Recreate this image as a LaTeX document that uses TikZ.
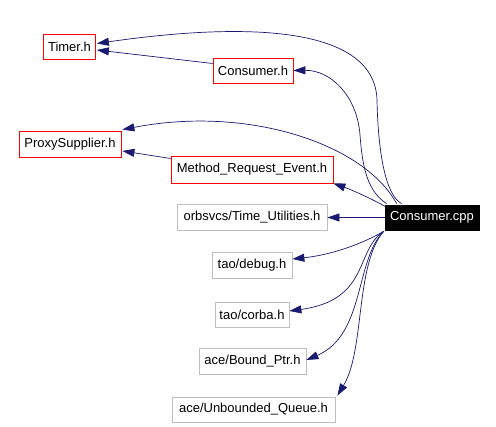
\documentclass[tikz,border=0pt]{standalone}
\usepackage{fontspec}
\setmainfont{Liberation Sans}
\usetikzlibrary{arrows.meta,calc}
\definecolor{edgec}{HTML}{191970}
\definecolor{grayb}{HTML}{BFBFBF}
\definecolor{redb}{HTML}{FF0000}
\tikzset{
  box/.style={draw,line width=0.8pt,inner sep=0pt,font=\fontsize{13}{15}\selectfont,fill=white},
  redbox/.style={box,draw=redb},
  graybox/.style={box,draw=grayb},
  mainbox/.style={box,draw=black,fill=black,text=white},
  dep/.style={draw=edgec,line width=0.7pt,-{Triangle[length=12pt,width=8pt,fill=edgec]}}
}
\begin{document}
\begin{tikzpicture}[x=1pt,y=-1pt]
\useasboundingbox (0,0) rectangle (496,427);
\node[redbox,minimum width=52pt,minimum height=25pt] (timer) at (69.5,46.5) {Timer.h};
\node[redbox,minimum width=80pt,minimum height=25pt] (consh) at (253,70.5) {Consumer.h};
\node[redbox,minimum width=102pt,minimum height=26pt] (proxy) at (70,144) {ProxySupplier.h};
\node[redbox,minimum width=162pt,minimum height=27pt] (mre) at (252,169.5) {Method\_Request\_Event.h};
\node[mainbox,minimum width=94pt,minimum height=25pt] (cpp) at (432,217.5) {Consumer.cpp};
\node[graybox,minimum width=150pt,minimum height=26pt] (tu) at (252,217.5) {orbsvcs/Time\_Utilities.h};
\node[graybox,minimum width=80pt,minimum height=26pt] (debug) at (252,265) {tao/debug.h};
\node[graybox,minimum width=74pt,minimum height=25pt] (corba) at (252,314.5) {tao/corba.h};
\node[graybox,minimum width=107pt,minimum height=26pt] (bptr) at (252.5,361) {ace/Bound\_Ptr.h};
\node[graybox,minimum width=163pt,minimum height=25pt] (uq) at (253.5,409.5) {ace/Unbounded\_Queue.h};

\coordinate (cppnw) at (cpp.north west);
\coordinate (cppsw) at (cpp.south west);

% Consumer.cpp -> Timer.h
\draw[dep] ($(cppnw)+(17,-1)$) .. controls (385,195) and (378,150) .. (377,100)
  .. controls (375,30) and (260,20) .. ($(timer.east)+(1,-3)$);
% Consumer.h -> Timer.h
\draw[dep] ($(consh.west)+(0,-7)$) -- ($(timer.east)+(1,3.5)$);
% Consumer.cpp -> Consumer.h
\draw[dep] ($(cppnw)+(2,-1)$) .. controls (365,190) and (362,160) .. (360,135)
  .. controls (357,95) and (330,70) .. (consh.east);
% Consumer.cpp -> ProxySupplier.h
\draw[dep] ($(cppnw)+(12,-1)$) .. controls (365,145) and (250,105) .. ($(proxy.north east)+(1,-1)$);
% Method_Request_Event.h -> ProxySupplier.h
\draw[dep] ($(mre.west)+(0,-11)$) -- ($(proxy.east)+(1,7)$);
% Consumer.cpp -> Method_Request_Event.h
\draw[dep] ($(cppnw)+(1,2)$) .. controls (370,198) and (352,190) .. ($(mre.south east)+(0,0)$);
% Consumer.cpp -> Time_Utilities.h
\draw[dep] (cpp.west) -- (tu.east);
% Consumer.cpp -> debug
\draw[dep] ($(cppsw)+(-1,1)$) .. controls (360,245) and (330,255) .. ($(debug.east)+(0,-6)$);
% Consumer.cpp -> corba
\draw[dep] ($(cppsw)+(-1,1)$) .. controls (355,250) and (370,300) .. ($(corba.east)+(0,-3.5)$);
% Consumer.cpp -> Bound_Ptr
\draw[dep] ($(cppsw)+(-1,1)$) .. controls (355,260) and (365,335) .. ($(bptr.east)+(0,-1)$);
% Consumer.cpp -> Unbounded_Queue
\draw[dep] ($(cppsw)+(-1,1)$) .. controls (355,265) and (365,350) .. ($(uq.north east)+(2,-1)$);
\end{tikzpicture}
\end{document}
